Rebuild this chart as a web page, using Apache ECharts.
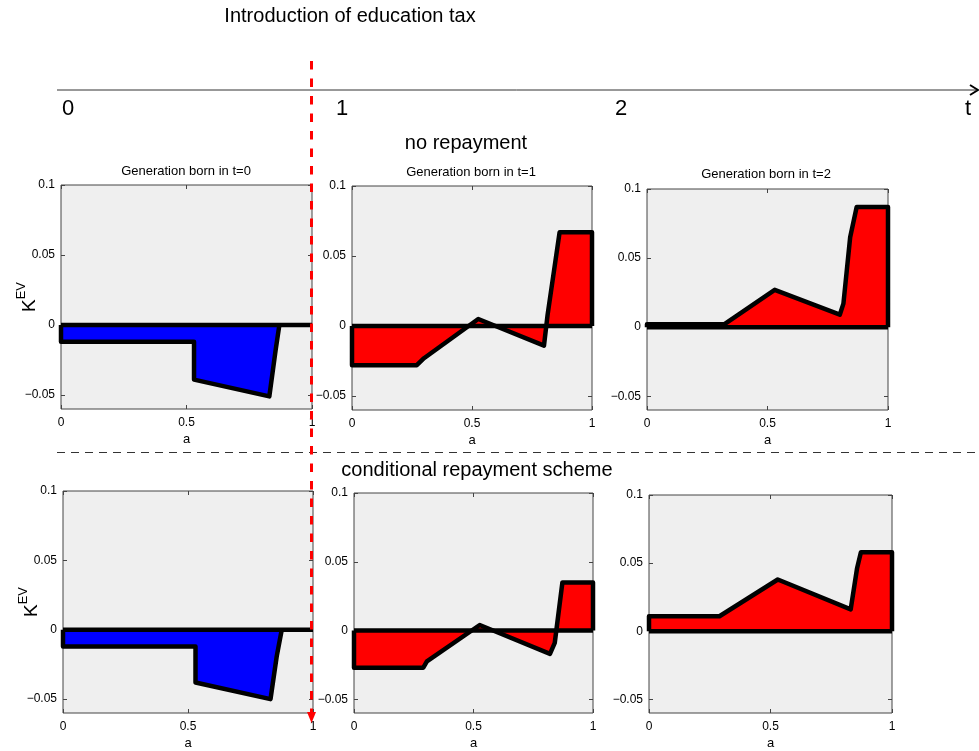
<!DOCTYPE html>
<html>
<head>
<meta charset="utf-8">
<script src="https://cdn.jsdelivr.net/npm/echarts@6/dist/echarts.min.js"></script>
<style>
html,body{margin:0;padding:0;background:#fff;}
#chart{width:979px;height:751px;}
</style>
</head>
<body>
<div id="chart"></div>
<script>
// ---- data ----
const xTicks = [0, 0.5, 1];
const yTicks = [-0.05, 0, 0.05, 0.1];
const panelTitles = ['Generation born in t=0', 'Generation born in t=1', 'Generation born in t=2'];
const timeLabels = ['0', '1', '2', 't'];
const rowLabels = ['no repayment', 'conditional repayment scheme'];
const mainTitle = 'Introduction of education tax';

// K^EV curves, pairs [a, K]
const noRepayT0 = [[0,0],[0,-0.012],[0.53,-0.012],[0.53,-0.039],[0.83,-0.051],[0.855,-0.018],[0.87,0]];
const noRepayT1 = [[0,0],[0,-0.028],[0.27,-0.028],[0.30,-0.023],[0.526,0.005],[0.80,-0.014],[0.815,0.008],[0.865,0.067],[1,0.067],[1,0]];
const noRepayT2 = [[0,0],[0,0.002],[0.32,0.002],[0.53,0.027],[0.80,0.009],[0.815,0.017],[0.843,0.065],[0.87,0.087],[1,0.087],[1,0]];
const condT0 = [[0,0],[0,-0.012],[0.53,-0.012],[0.53,-0.038],[0.83,-0.05],[0.855,-0.019],[0.875,0]];
const condT1 = [[0,0],[0,-0.027],[0.29,-0.027],[0.305,-0.0225],[0.526,0.004],[0.82,-0.017],[0.84,-0.009],[0.872,0.035],[1,0.035],[1,0]];
const condT2 = [[0,0],[0,0.011],[0.29,0.011],[0.53,0.038],[0.83,0.016],[0.856,0.046],[0.872,0.058],[1,0.058],[1,0]];
const baseline = [[0,0],[1,0]];

const curves = [noRepayT0, noRepayT1, noRepayT2, condT0, condT1, condT2];
const fills = ['#0000ff', '#ff0000', '#ff0000', '#0000ff', '#ff0000', '#ff0000'];

// ---- layout ----
const grids = [
  {left: 61, top: 185, width: 251, height: 224},
  {left: 352, top: 186, width: 240, height: 224},
  {left: 647, top: 189, width: 241, height: 221},
  {left: 63, top: 491, width: 250, height: 223},
  {left: 354, top: 493, width: 239, height: 221},
  {left: 649, top: 495, width: 243, height: 221}
];

const FONT = 'Liberation Sans, Arial, Helvetica, sans-serif';
const fmtY = v => (v < 0 ? '\u2212' + (-v) : String(v));
const tickStyle = {inside: true, length: 4, lineStyle: {color: '#444'}};

const gridOpts = [], xAxes = [], yAxes = [], series = [];
grids.forEach((g, i) => {
  gridOpts.push(Object.assign({show: true, backgroundColor: '#efefef', borderColor: '#444', borderWidth: 1}, g));
  const isLeft = (i % 3 === 0);
  // bottom x axis
  xAxes.push({
    type: 'value', gridIndex: i, min: 0, max: 1, interval: 0.5, position: 'bottom',
    name: 'a', nameLocation: 'middle', nameGap: 24, nameMoveOverlap: false,
    nameTextStyle: {fontFamily: FONT, fontSize: 13, color: '#000'},
    axisLine: {show: false, onZero: false}, splitLine: {show: false},
    axisTick: tickStyle,
    axisLabel: {fontFamily: FONT, fontSize: 12, color: '#000', margin: 8, formatter: v => String(v)}
  });
  // top mirror axis
  xAxes.push({
    type: 'value', gridIndex: i, min: 0, max: 1, interval: 0.5, position: 'top',
    axisLine: {show: false, onZero: false}, splitLine: {show: false}, axisLabel: {show: false},
    axisTick: tickStyle
  });
  yAxes.push({
    type: 'value', gridIndex: i, min: -0.06, max: 0.1, position: 'left',
    name: isLeft ? '{k|K}{s|EV}' : '', nameLocation: 'middle', nameGap: 22, nameMoveOverlap: false,
    nameTextStyle: {
      fontFamily: FONT, color: '#000',
      rich: {
        k: {fontFamily: FONT, fontSize: 19, color: '#000', verticalAlign: 'bottom', lineHeight: 24},
        s: {fontFamily: FONT, fontSize: 13, color: '#000', verticalAlign: 'top', lineHeight: 24, padding: [0, 0, 10, 0]}
      }
    },
    axisLine: {show: false, onZero: false}, splitLine: {show: false},
    axisTick: Object.assign({customValues: yTicks}, tickStyle),
    axisLabel: {fontFamily: FONT, fontSize: 12, color: '#000', margin: 6, customValues: yTicks, formatter: fmtY}
  });
  yAxes.push({
    type: 'value', gridIndex: i, min: -0.06, max: 0.1, position: 'right',
    axisLine: {show: false, onZero: false}, splitLine: {show: false}, axisLabel: {show: false},
    axisTick: Object.assign({customValues: yTicks}, tickStyle)
  });
  series.push({
    type: 'line', xAxisIndex: 2 * i, yAxisIndex: 2 * i, data: curves[i],
    showSymbol: false, symbol: 'none', animation: false, z: 3,
    lineStyle: {color: '#000', width: 4.5, join: 'round'},
    areaStyle: {color: fills[i], opacity: 1, origin: 0}
  });
  series.push({
    type: 'line', xAxisIndex: 2 * i, yAxisIndex: 2 * i, data: baseline,
    showSymbol: false, symbol: 'none', animation: false, z: 4,
    lineStyle: {color: '#000', width: 4.5}
  });
});

const txt = (text, x, y, size, align) => ({
  type: 'text', x: x, y: y, z: 100,
  style: {text: text, fill: '#000', font: size + 'px ' + FONT, align: align || 'center', verticalAlign: 'middle'}
});

const timeX = [68, 342, 621, 968];
const graphics = [
  txt(mainTitle, 350, 16, 20),
  {type: 'line', z: 50, shape: {x1: 57, y1: 90, x2: 976, y2: 90}, style: {stroke: '#333', lineWidth: 1}},
  {type: 'polyline', z: 50, shape: {points: [[970, 85], [978, 90], [970, 95]]}, style: {stroke: '#000', lineWidth: 2, fill: null}},
  {type: 'line', z: 50, shape: {x1: 57, y1: 452.5, x2: 979, y2: 452.5}, style: {stroke: '#333', lineWidth: 1, lineDash: [8, 6]}},
  txt(rowLabels[0], 466, 143, 20),
  txt(rowLabels[1], 477, 470, 20),
  {type: 'line', z: 60, shape: {x1: 311.5, y1: 61, x2: 311.5, y2: 716}, style: {stroke: '#ff0000', lineWidth: 3, lineDash: [8.5, 9]}},
  {type: 'polygon', z: 60, shape: {points: [[307, 712], [316, 712], [311.5, 723]]}, style: {fill: '#ff0000'}}
];
timeLabels.forEach((t, i) => graphics.push(txt(t, timeX[i], 109, 22)));
const subX = [186, 471, 766], subY = [171, 172, 174];
panelTitles.forEach((t, i) => graphics.push(txt(t, subX[i], subY[i], 13)));

const chart = echarts.init(document.getElementById('chart'), null, {renderer: 'canvas'});
chart.setOption({
  animation: false,
  backgroundColor: '#fff',
  grid: gridOpts,
  xAxis: xAxes,
  yAxis: yAxes,
  series: series,
  graphic: graphics
});
</script>
</body>
</html>
